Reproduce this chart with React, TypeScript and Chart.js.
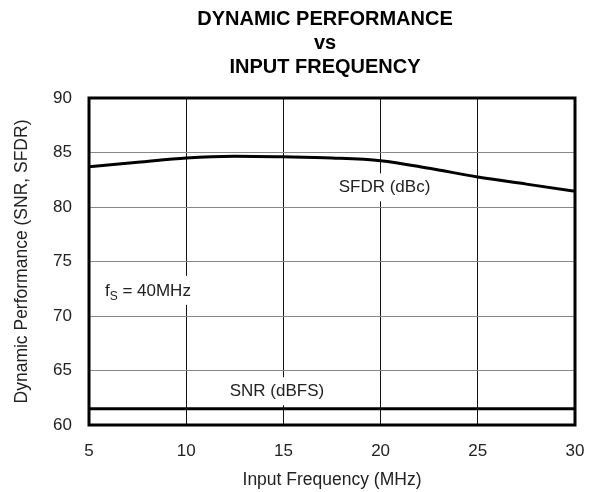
import React, { useEffect, useRef } from "react";
import { Chart, registerables } from "chart.js";

Chart.register(...registerables);

const titleLines = ["DYNAMIC PERFORMANCE", "vs", "INPUT FREQUENCY"];
const xTitle = "Input Frequency (MHz)";
const yTitle = "Dynamic Performance (SNR, SFDR)";

const sfdrFreq = [5, 7.5, 10, 12.5, 15, 17.5, 20, 22.5, 25, 27.5, 30];
const sfdrValues = [83.7, 84.1, 84.5, 84.65, 84.6, 84.5, 84.25, 83.55, 82.75, 82.1, 81.45];

const snrFreq = [5, 30];
const snrValues = [61.5, 61.5];

const sfdrLabel = { text: "SFDR (dBc)", x: 20.2, y: 81.8 };
const snrLabel = { text: "SNR (dBFS)", x: 14.67, y: 63.1 };
const fsLabel = { main: "f", sub: "S", rest: " = 40MHz", x: 5.82, y: 72.4 };

const FONT = "'Liberation Sans', Arial, sans-serif";

const decorPlugin = {
  id: "decor",
  afterDatasetsDraw(chart: any) {
    const { ctx, chartArea, scales } = chart;
    const xs = scales.x;
    const ys = scales.y;
    ctx.save();
    const drawBoxed = (lab: { text: string; x: number; y: number }) => {
      ctx.font = `17px ${FONT}`;
      const w = ctx.measureText(lab.text).width;
      const cx = xs.getPixelForValue(lab.x);
      const cy = ys.getPixelForValue(lab.y);
      ctx.fillStyle = "#fff";
      ctx.fillRect(cx - w / 2 - 2, cy - 14, w + 4, 28);
      ctx.fillStyle = "#222";
      ctx.textAlign = "center";
      ctx.textBaseline = "middle";
      ctx.fillText(lab.text, cx, cy);
    };
    drawBoxed(sfdrLabel);
    drawBoxed(snrLabel);

    {
      const lx = xs.getPixelForValue(fsLabel.x);
      const cy = ys.getPixelForValue(fsLabel.y);
      ctx.font = `17px ${FONT}`;
      const wMain = ctx.measureText(fsLabel.main).width;
      ctx.font = `12px ${FONT}`;
      const wSub = ctx.measureText(fsLabel.sub).width;
      ctx.font = `17px ${FONT}`;
      const wRest = ctx.measureText(fsLabel.rest).width;
      const total = wMain + wSub + wRest;
      ctx.fillStyle = "#fff";
      ctx.fillRect(lx - 2, cy - 14, total + 4, 29);
      ctx.fillStyle = "#222";
      ctx.textAlign = "left";
      ctx.textBaseline = "alphabetic";
      const base = cy + 6;
      ctx.font = `17px ${FONT}`;
      ctx.fillText(fsLabel.main, lx, base);
      ctx.font = `12px ${FONT}`;
      ctx.fillText(fsLabel.sub, lx + wMain, base + 4);
      ctx.font = `17px ${FONT}`;
      ctx.fillText(fsLabel.rest, lx + wMain + wSub, base);
    }

    ctx.strokeStyle = "#000";
    ctx.lineWidth = 3;
    ctx.strokeRect(
      chartArea.left,
      chartArea.top,
      chartArea.right - chartArea.left,
      chartArea.bottom - chartArea.top
    );
    ctx.restore();
  },
  afterDraw(chart: any) {
    const { ctx, chartArea } = chart;
    ctx.save();
    ctx.fillStyle = "#000";
    ctx.textAlign = "center";
    ctx.textBaseline = "alphabetic";
    ctx.font = `bold 20px ${FONT}`;
    const tcx = 325;
    const baselines = [25, 49, 73];
    titleLines.forEach((t, i) => ctx.fillText(t, tcx, baselines[i]));

    ctx.fillStyle = "#222";
    ctx.font = `17.5px ${FONT}`;
    ctx.textBaseline = "middle";
    ctx.fillText(xTitle, (chartArea.left + chartArea.right) / 2, 480);
    ctx.translate(22, (chartArea.top + chartArea.bottom) / 2);
    ctx.rotate(-Math.PI / 2);
    ctx.fillText(yTitle, 0, 0);
    ctx.restore();
  },
};

export default function App() {
  const ref = useRef<HTMLCanvasElement | null>(null);
  useEffect(() => {
    if (!ref.current) return;
    const chart = new Chart(ref.current, {
      type: "line",
      data: {
        datasets: [
          {
            label: "SFDR (dBc)",
            data: sfdrFreq.map((f, i) => ({ x: f, y: sfdrValues[i] })),
            borderColor: "#000",
            borderWidth: 3,
            pointRadius: 0,
            cubicInterpolationMode: "monotone",
            fill: false,
          },
          {
            label: "SNR (dBFS)",
            data: snrFreq.map((f, i) => ({ x: f, y: snrValues[i] })),
            borderColor: "#000",
            borderWidth: 3,
            pointRadius: 0,
            fill: false,
          },
        ],
      },
      options: {
        animation: false,
        responsive: false,
        devicePixelRatio: 1,
        layout: { padding: { top: 98, right: 20, left: 0, bottom: 0 } },
        plugins: {
          legend: { display: false },
          title: { display: false },
          tooltip: { enabled: false },
        },
        scales: {
          x: {
            type: "linear",
            min: 5,
            max: 30,
            afterFit: (s: any) => {
              s.height = 67;
              s.paddingLeft = 0;
              s.paddingRight = 0;
            },
            ticks: {
              stepSize: 5,
              padding: 16,
              color: "#222",
              font: { family: FONT, size: 17 },
              maxRotation: 0,
            },
            grid: { color: "#111", lineWidth: 1, drawTicks: false },
            border: { display: false },
          },
          y: {
            type: "linear",
            min: 60,
            max: 90,
            afterFit: (s: any) => {
              s.width = 89;
              s.paddingTop = 0;
              s.paddingBottom = 0;
            },
            ticks: {
              stepSize: 5,
              padding: 17,
              color: "#222",
              font: { family: FONT, size: 17 },
            },
            grid: { color: "#888", lineWidth: 1, drawTicks: false },
            border: { display: false },
          },
        },
      },
      plugins: [decorPlugin],
    } as any);
    return () => chart.destroy();
  }, []);
  return (
    <div style={{ position: "fixed", left: 0, top: 0, width: 595, height: 492, background: "#fff" }}>
      <canvas ref={ref} width={595} height={492} style={{ width: 595, height: 492 }} />
    </div>
  );
}
